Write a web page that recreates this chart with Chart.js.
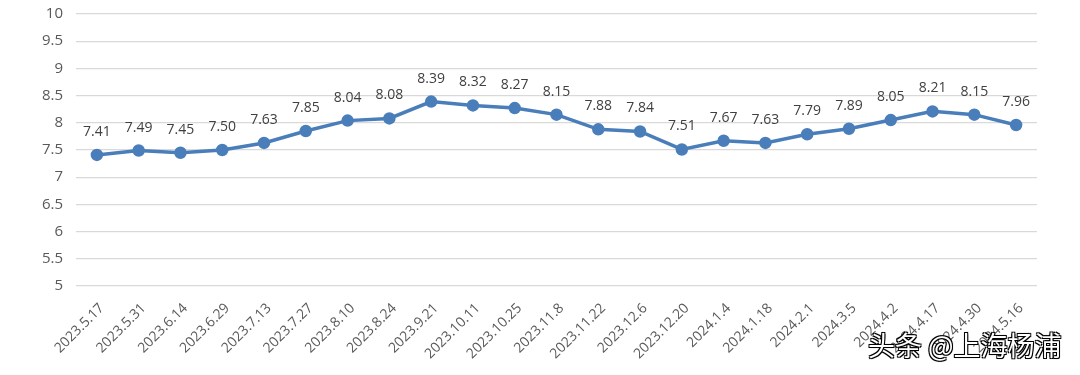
<!DOCTYPE html>
<html><head><meta charset="utf-8">
<script src="https://cdn.jsdelivr.net/npm/chart.js@4"></script>
<style>
html,body{margin:0;padding:0;background:#fff;}
#wrap{position:relative;width:1080px;height:375px;overflow:hidden;}
#c{position:absolute;left:0;top:-8px;}
#wm{position:absolute;left:868px;top:329px;font-family:"Noto Sans CJK SC";font-size:27px;line-height:32px;color:#fff;
 text-shadow:-1px -1px 0 #000,1px -1px 0 #000,-1px 1px 0 #000,1px 1px 0 #000,0 0 2px #000;}
</style></head>
<body><div id="wrap"><canvas id="c" width="1080" height="383"></canvas><div id="wm">头条 @上海杨浦</div></div>
<script>
const categories = ["2023.5.17","2023.5.31","2023.6.14","2023.6.29","2023.7.13","2023.7.27","2023.8.10","2023.8.24","2023.9.21","2023.10.11","2023.10.25","2023.11.8","2023.11.22","2023.12.6","2023.12.20","2024.1.4","2024.1.18","2024.2.1","2024.3.5","2024.4.2","2024.4.17","2024.4.30","2024.5.16"];
const values = [7.41,7.49,7.45,7.50,7.63,7.85,8.04,8.08,8.39,8.32,8.27,8.15,7.88,7.84,7.51,7.67,7.63,7.79,7.89,8.05,8.21,8.15,7.96];
const yTicks = [5,5.5,6,6.5,7,7.5,8,8.5,9,9.5,10];

const labelPlugin = {
  id:'dl',
  afterDatasetsDraw(chart){
    const ctx = chart.ctx;
    const meta = chart.getDatasetMeta(0);
    ctx.save();
    ctx.font = '14px "Open Sans"';
    ctx.fillStyle = '#404040';
    ctx.textAlign = 'center';
    ctx.textBaseline = 'middle';
    meta.data.forEach((p,i)=>{
      ctx.fillText(values[i].toFixed(2), p.x, p.y - 23);
    });
    ctx.restore();
  }
};

new Chart(document.getElementById('c'), {
  type:'line',
  data:{labels:categories, datasets:[{data:values, borderColor:'#4a7ebb', backgroundColor:'#4a7ebb',
    borderWidth:3.5, pointRadius:4.5, pointBackgroundColor:'#4a7ebb', pointBorderColor:'#4a7ebb', tension:0}]},
  options:{
    responsive:false, animation:false,
    layout:{padding:{top:4,right:43,left:0,bottom:0}},
    plugins:{legend:{display:false}, tooltip:{enabled:false}},
    scales:{
      x:{offset:true, grid:{display:false}, border:{display:false},
        ticks:{minRotation:45,maxRotation:45,autoSkip:false,color:'#595959',font:{family:'Open Sans',size:14},padding:6,labelOffset:5},
        afterFit(s){s.height=89;}},
      y:{min:5,max:10, border:{display:false}, grid:{color:'#d9d9d9',lineWidth:1.2, drawTicks:false},
        afterBuildTicks(s){s.ticks = yTicks.map(v=>({value:v}));},
        ticks:{color:'#595959',font:{family:'Open Sans',size:15},padding:13,callback:v=>String(v)},
        afterFit(s){s.width=76;}}
    }
  },
  plugins:[labelPlugin]
});
</script></body></html>
